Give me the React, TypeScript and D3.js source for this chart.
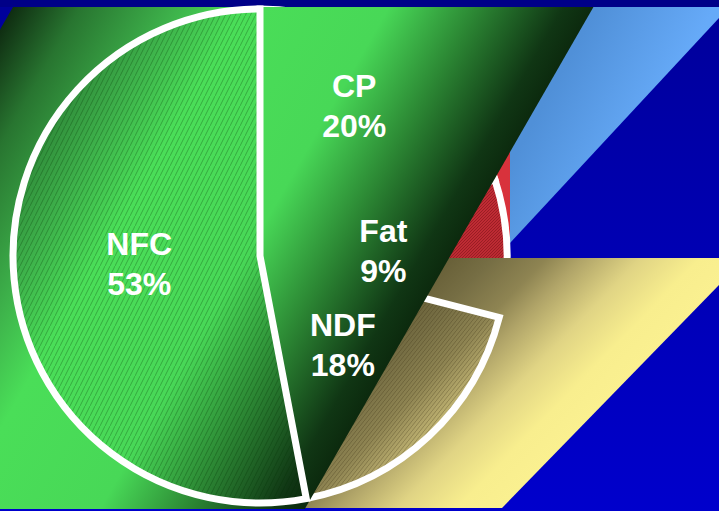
import React from 'react';
import * as d3 from 'd3';

// ---- data ----
const categories = ['CP', 'Fat', 'NDF', 'NFC'];
const values = [20, 9, 18, 53];
const percentLabels = ['20%', '9%', '18%', '53%'];
const sliceFills = ['#5a9ae6', 'url(#gRed)', 'url(#gYellowS)', 'url(#gGreenS)'];
const sliceHatch = ['none', 'url(#hRed)', 'url(#hOlive)', 'url(#hGreen)'];
// label placement (fraction of radius, angular shift in degrees)
const labelRadius = [0.72, 0.5, 0.49, 0.49];
const labelShift = [-4, -1, 0, 2];

const W = 719;
const H = 511;
const cx = 260;
const cy = 256;
const R = 247;
const TOP = 7;
const BOTTOM = 509;

const greenStops: [number, string][] = [
  [0, '#0e2a10'],
  [0.12, '#287530'],
  [0.28, '#3db04a'],
  [0.4, '#4ade58'],
  [0.65, '#48d857'],
  [0.8, '#2c8834'],
  [0.95, '#103614'],
  [1, '#0c2a0e'],
];
const yellowStops: [number, string][] = [
  [0, '#686038'],
  [0.15, '#766e44'],
  [0.33, '#8e8452'],
  [0.45, '#b0a468'],
  [0.65, '#e0d484'],
  [0.85, '#f8ee8e'],
  [1, '#faf090'],
];

export default function App() {
  const pie = d3.pie<number>().sort(null).startAngle(0).endAngle(2 * Math.PI).value((d) => d);
  const arcs = pie(values);
  const arcGen = d3.arc<d3.PieArcDatum<number>>().innerRadius(0).outerRadius(R);
  const line = d3.line();

  // extrusion shapes derived from pie geometry
  const gs = 0.575; // skew of green extrusion (dx per dy)
  const gTopL = cx - R;
  const gTopR = cx + 1.35 * R;
  const green: [number, number][] = [
    [gTopL, TOP],
    [gTopR, TOP],
    [gTopR - gs * (BOTTOM - TOP), BOTTOM],
    [gTopL - gs * (BOTTOM - TOP), BOTTOM],
  ];
  const rightX = cx + R + 3;
  const blue: [number, number][] = [
    [rightX + 10, TOP],
    [W, TOP],
    [W, TOP + 11],
    [rightX, cy - 13],
    [rightX, 80],
  ];
  const yTop = cy + 2;
  const yellow: [number, number][] = [
    [cx + 150, yTop],
    [W, yTop],
    [W, yTop + 27],
    [cx + 242, BOTTOM - 1],
    [cx + 20, BOTTOM - 1],
  ];

  const slice = (i: number) => {
    const a = arcs[i];
    return (
      <g key={categories[i]} transform={`translate(${cx},${cy})`}>
        <path d={arcGen(a) || ''} fill={sliceFills[i]} />
        {sliceHatch[i] !== 'none' && <path d={arcGen(a) || ''} fill={sliceHatch[i]} />}
        <path d={arcGen(a) || ''} fill="none" stroke="#ffffff" strokeWidth={7} strokeLinejoin="miter" />
      </g>
    );
  };

  const labels = arcs.map((a, i) => {
    const ang = (a.startAngle + a.endAngle) / 2 + (labelShift[i] * Math.PI) / 180;
    const rr = R * labelRadius[i];
    const x = cx + rr * Math.sin(ang);
    const y = cy - rr * Math.cos(ang);
    return (
      <text
        key={'l' + i}
        x={x}
        textAnchor="middle"
        fill="#ffffff"
        fontFamily="'Liberation Sans', Arial, sans-serif"
        fontWeight="bold"
        fontSize={32}
      >
        <tspan x={x} y={y - 8}>{categories[i]}</tspan>
        <tspan x={x} y={y + 32}>{percentLabels[i]}</tspan>
      </text>
    );
  });

  const grad = (id: string, stops: [number, string][], x1: number, y1: number, x2: number, y2: number, shift: boolean) => (
    <linearGradient
      id={id}
      gradientUnits="userSpaceOnUse"
      x1={x1}
      y1={y1}
      x2={x2}
      y2={y2}
      gradientTransform={shift ? `translate(${-cx},${-cy})` : undefined}
    >
      {stops.map(([o, c], k) => (
        <stop key={k} offset={o} stopColor={c} />
      ))}
    </linearGradient>
  );

  return (
    <svg
      width={W}
      height={H}
      viewBox={`0 0 ${W} ${H}`}
      style={{ position: 'absolute', left: 0, top: 0, display: 'block' }}
    >
      <defs>
        <linearGradient id="gBg" x1="0" y1="0" x2="0" y2="1">
          <stop offset="0" stopColor="#00009a" />
          <stop offset="1" stopColor="#0000cc" />
        </linearGradient>
        {grad('gGreen', greenStops, 10, 7, 448, 259, false)}
        {grad('gGreenS', greenStops, 10, 7, 448, 259, true)}
        {grad('gYellow', yellowStops, 449, 258, 601, 406, false)}
        {grad('gYellowS', yellowStops, 449, 258, 601, 406, true)}
        <linearGradient id="gBlue" gradientUnits="userSpaceOnUse" x1={590} y1={20} x2={680} y2={70}>
          <stop offset="0" stopColor="#5090d8" />
          <stop offset="1" stopColor="#66aaf8" />
        </linearGradient>
        <linearGradient id="gRed" x1="0" y1="0" x2="1" y2="1">
          <stop offset="0" stopColor="#c8303a" />
          <stop offset="1" stopColor="#b82830" />
        </linearGradient>
        <pattern id="hGreen" patternUnits="userSpaceOnUse" width={5} height={10}>
          <line x1={0} y1={10} x2={5} y2={0} stroke="rgba(0,40,0,0.35)" strokeWidth={0.8} />
        </pattern>
        <pattern id="hOlive" patternUnits="userSpaceOnUse" width={4} height={5}>
          <line x1={0} y1={5} x2={4} y2={0} stroke="rgba(50,40,10,0.35)" strokeWidth={0.8} />
        </pattern>
        <pattern id="hRed" patternUnits="userSpaceOnUse" width={3} height={3}>
          <line x1={0} y1={3} x2={3} y2={0} stroke="rgba(80,0,0,0.4)" strokeWidth={0.8} />
        </pattern>
      </defs>

      <rect x={0} y={0} width={W} height={H} fill="url(#gBg)" />
      <rect x={0} y={0} width={W} height={TOP} fill="#000088" />

      {/* Fat extrusion */}
      <rect x={rightX - 80} y={130} width={80} height={yTop - 130} fill="#d8323c" />
      {/* CP extrusion */}
      <path d={line(blue) + 'Z'} fill="url(#gBlue)" />
      {/* CP & Fat slices */}
      {slice(0)}
      {slice(1)}
      {/* NDF extrusion */}
      <path d={line(yellow) + 'Z'} fill="url(#gYellow)" />
      {slice(2)}
      {/* NFC extrusion */}
      <path d={line(green) + 'Z'} fill="url(#gGreen)" />
      {slice(3)}

      {labels}
    </svg>
  );
}
